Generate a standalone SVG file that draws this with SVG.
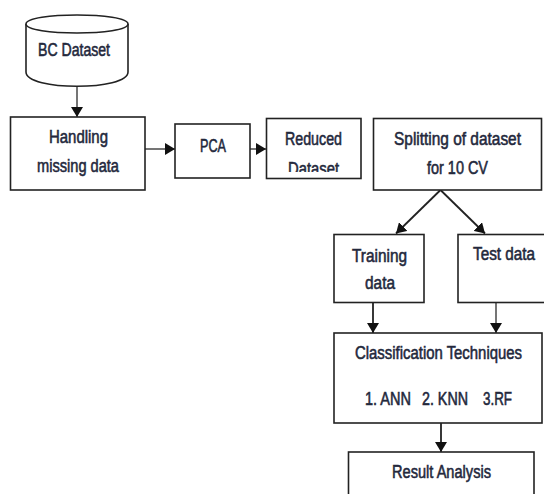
<svg xmlns="http://www.w3.org/2000/svg" width="544" height="494" viewBox="0 0 544 494">
<style>
.b{fill:#fff;stroke:#222;stroke-width:1.6}
.c{fill:none;stroke:#222;stroke-width:1.8}
.g{fill:none;stroke:#666;stroke-width:1.8}
text{font-family:"Liberation Sans",Arial,sans-serif;font-size:17.500px;font-weight:400;fill:#23283c;stroke:#23283c;stroke-width:.55}
</style>
<defs>
<marker id="a" markerUnits="userSpaceOnUse" markerWidth="11" markerHeight="12" refX="10" refY="6" orient="auto"><path d="M0 0L10 6L0 12Z" fill="#111"/></marker>
<clipPath id="clip"><rect x="266" y="118" width="96" height="54"/></clipPath>
</defs>
<g id="connectors">
<path class="g" d="M77 85V117" marker-end="url(#a)"/>
<path class="g" d="M145 149H175" marker-end="url(#a)"/>
<path class="g" d="M250 149H266" marker-end="url(#a)"/>
<path class="c" d="M440.500 190L396 233.500" marker-end="url(#a)"/>
<path class="c" d="M440.500 190L485 233.500" marker-end="url(#a)"/>
<path class="c" d="M373 302V333" marker-end="url(#a)"/>
<path class="g" d="M496 300V333" marker-end="url(#a)"/>
<path class="c" d="M441 423V452" marker-end="url(#a)"/>
</g>
<g id="n-bc"><path class="b" d="M26 24C26 12 128 12 128 24V72C128 91 26 91 26 72Z"/><path class="b" fill="none" d="M26 24C26 36 128 36 128 24"/><text x="38" y="56" textLength="72" lengthAdjust="spacingAndGlyphs">BC Dataset</text></g>
<g id="n-handling"><rect class="b" x="10.500" y="117" width="134.500" height="73"/><text x="49" y="143" textLength="59" lengthAdjust="spacingAndGlyphs">Handling</text><text x="37" y="172" textLength="82" lengthAdjust="spacingAndGlyphs">missing data</text></g>
<g id="n-pca"><rect class="b" x="175" y="124" width="75" height="54"/><text x="200" y="152" textLength="26" lengthAdjust="spacingAndGlyphs">PCA</text></g>
<g id="n-reduced"><rect class="b" x="266.500" y="118.500" width="94.500" height="60"/><text x="285" y="145" textLength="57" lengthAdjust="spacingAndGlyphs">Reduced</text><text x="288" y="175" textLength="51" lengthAdjust="spacingAndGlyphs" clip-path="url(#clip)">Dataset</text></g>
<g id="n-split"><rect class="b" x="373.500" y="118.500" width="168" height="71.500"/><text x="394" y="145" textLength="127" lengthAdjust="spacingAndGlyphs">Splitting of dataset</text><text x="427" y="174" textLength="61" lengthAdjust="spacingAndGlyphs">for 10 CV</text></g>
<g id="n-training"><rect class="b" x="334" y="234.500" width="90" height="68"/><text x="352" y="262" textLength="55" lengthAdjust="spacingAndGlyphs">Training</text><text x="365" y="289" textLength="30" lengthAdjust="spacingAndGlyphs">data</text></g>
<g id="n-test"><rect class="b" x="458" y="234.500" width="90" height="68"/><text x="473" y="260" textLength="62" lengthAdjust="spacingAndGlyphs">Test data</text></g>
<g id="n-class"><rect class="b" x="334" y="333" width="208" height="90"/><text x="355" y="359" textLength="167" lengthAdjust="spacingAndGlyphs">Classification Techniques</text><text x="365" y="405" textLength="46" lengthAdjust="spacingAndGlyphs">1. ANN</text><text x="422" y="405" textLength="46" lengthAdjust="spacingAndGlyphs">2. KNN</text><text x="483" y="405" textLength="29" lengthAdjust="spacingAndGlyphs">3.RF</text></g>
<g id="n-result"><rect class="b" x="348.500" y="452" width="185.500" height="60"/><text x="392" y="478" textLength="99" lengthAdjust="spacingAndGlyphs">Result Analysis</text></g>
</svg>
